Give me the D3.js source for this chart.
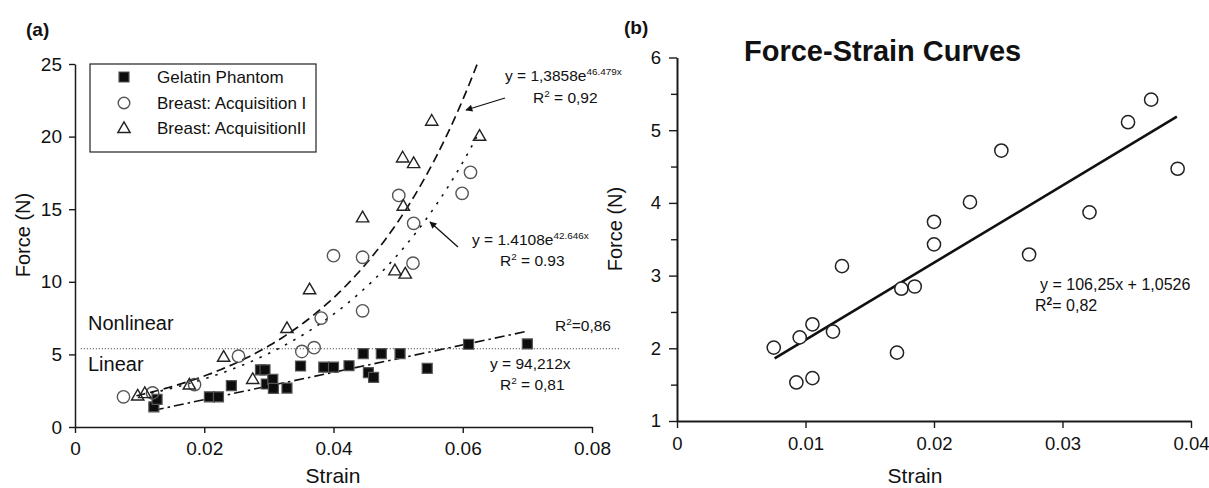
<!DOCTYPE html>
<html>
<head>
<meta charset="utf-8">
<script src="https://cdn.jsdelivr.net/npm/d3@7"></script>
<style>
    body { margin: 0; background: #fff; }
    svg { display: block; font-family: "Liberation Sans", Arial, sans-serif; }
</style>
</head>
<body>
<svg id="chart" width="1209" height="488"></svg>
<script>
// ---- panel (a) data: [strain, force] ----
var gelatin = [
    [0.0122, 1.39], [0.0127, 1.90], [0.0208, 2.08], [0.0222, 2.08], [0.0242, 2.85],
    [0.0287, 3.94], [0.0294, 3.94], [0.0296, 2.96], [0.0306, 3.28], [0.0307, 2.66],
    [0.0328, 2.68], [0.0349, 4.20], [0.0385, 4.12], [0.0400, 4.12], [0.0424, 4.22],
    [0.0446, 5.05], [0.0454, 3.74], [0.0462, 3.42], [0.0474, 5.05], [0.0503, 5.05],
    [0.0545, 4.04], [0.0609, 5.70], [0.0700, 5.72]
];
var acqOne = [
    [0.0075, 2.08], [0.0120, 2.35], [0.0185, 2.92], [0.0253, 4.88], [0.0351, 5.20],
    [0.0370, 5.46], [0.0381, 7.50], [0.0445, 8.00], [0.0400, 11.80], [0.0445, 11.69],
    [0.0523, 11.28], [0.0501, 15.95], [0.0524, 14.03], [0.0599, 16.09], [0.0612, 17.54]
];
var acqTwo = [
    [0.0097, 2.10], [0.0108, 2.27], [0.0177, 2.86], [0.0230, 4.77], [0.0275, 3.24],
    [0.0328, 6.75], [0.0363, 9.42], [0.0445, 14.37], [0.0495, 10.72], [0.0508, 15.17],
    [0.0507, 18.50], [0.0511, 10.50], [0.0524, 18.11], [0.0552, 21.03], [0.0626, 19.99]
];
// trend lines printed on the chart: y = a*exp(b*x) and y = m*x, with their x extents
var fitAcqTwo = [1.3858, 46.479, 0.0095, 0.0622];
var fitAcqOne = [1.4108, 42.646, 0.0118, 0.0626];
var fitGelatin = [94.212, 0.0122, 0.0700];
var boundaryForce = 5.39;
var xTicksA = [0, 0.02, 0.04, 0.06, 0.08];
var yTicksA = [0, 5, 10, 15, 20, 25];
var legendNames = ["Gelatin Phantom", "Breast: Acquisition I", "Breast: AcquisitionII"];

// ---- panel (b) data ----
var strainB = [0.00753, 0.00955, 0.01054, 0.00929, 0.01054, 0.01214, 0.01284, 0.01712, 0.01746, 0.0185,
    0.0200, 0.0200, 0.0228, 0.02524, 0.0274, 0.0321, 0.0351, 0.0369, 0.03896];
var forceB = [2.01, 2.15, 2.33, 1.53, 1.59, 2.23, 3.13, 1.94, 2.82, 2.85,
    3.43, 3.74, 4.01, 4.72, 3.29, 3.87, 5.11, 5.42, 4.47];
var fitB = [106.25, 1.0526, 0.0076, 0.0389];
var xTicksB = [0, 0.01, 0.02, 0.03, 0.04];
var yTicksB = [1, 2, 3, 4, 5, 6];
var yMinorB = [1.5, 2.5, 3.5, 4.5, 5.5];

var svg = d3.select("#chart");
var ink = "#111";

function fmtTick(d) { return d === 0 ? "0" : d3.format(".2f")(d); }

function sampleExp(f) {
    var xs = d3.range(f[2], f[3], 0.0005).concat([f[3]]);
    return xs.map(function (x) { return [x, f[0] * Math.exp(f[1] * x)]; });
}

function styleAxis(ax, w, size) {
    ax.select(".domain").attr("stroke", "#1a1a1a").attr("stroke-width", w);
    ax.selectAll(".tick line").attr("stroke", "#1a1a1a").attr("stroke-width", 1.4);
    ax.selectAll(".tick text").attr("fill", ink).style("font-size", size + "px")
        .style("font-family", "'Liberation Sans', Arial, sans-serif");
}

// text with superscripts: parts = [{t: "..."}, {sup: "..."}, ...]
function eqText(g, x, y, size, parts, supBold) {
    var t = g.append("text").attr("x", x).attr("y", y).attr("fill", ink).style("font-size", size + "px");
    var raise = size * 0.4, up = false;
    parts.forEach(function (p) {
        if (p.sup) {
            t.append("tspan").attr("dy", -raise).style("font-size", (size * 0.64) + "px")
                .style("font-weight", supBold ? "bold" : null).text(p.sup);
            up = true;
        } else {
            t.append("tspan").attr("dy", up ? raise : 0).text(p.t);
            up = false;
        }
    });
    return t;
}

/* ================= panel (a) ================= */
var xA = d3.scaleLinear().domain([0, 0.08]).range([75, 592]);
var yA = d3.scaleLinear().domain([0, 25]).range([427, 64]);
var gA = svg.append("g");

var axXA = gA.append("g").attr("transform", "translate(0," + yA(0) + ")")
    .call(d3.axisBottom(xA).tickValues(xTicksA).tickFormat(fmtTick).tickSize(6).tickSizeOuter(0).tickPadding(9));
var axYA = gA.append("g").attr("transform", "translate(" + xA(0) + ",0)")
    .call(d3.axisLeft(yA).tickValues(yTicksA).tickFormat(d3.format("d")).tickSize(6).tickSizeOuter(0).tickPadding(7));
styleAxis(axXA, 1.5, 19);
styleAxis(axYA, 1.5, 19);

// linear / nonlinear boundary
gA.append("line")
    .attr("x1", xA(0.0009)).attr("x2", xA(0.0843))
    .attr("y1", yA(boundaryForce)).attr("y2", yA(boundaryForce))
    .attr("stroke", "#333").attr("stroke-width", 1).attr("stroke-dasharray", "1,2");

gA.append("text").attr("x", 88).attr("y", 330).attr("fill", ink).style("font-size", "20px").text("Nonlinear");
gA.append("text").attr("x", 88).attr("y", 371).attr("fill", ink).style("font-size", "20px").text("Linear");

// trend lines
var lineA = d3.line().x(function (d) { return xA(d[0]); }).y(function (d) { return yA(d[1]); });
gA.append("path").datum(sampleExp(fitAcqTwo)).attr("d", lineA)
    .attr("fill", "none").attr("stroke", ink).attr("stroke-width", 1.7).attr("stroke-dasharray", "9,5");
gA.append("path").datum(sampleExp(fitAcqOne)).attr("d", lineA)
    .attr("fill", "none").attr("stroke", ink).attr("stroke-width", 1.6).attr("stroke-dasharray", "2.5,7");
gA.append("path")
    .datum([[fitGelatin[1], fitGelatin[0] * fitGelatin[1]], [fitGelatin[2], fitGelatin[0] * fitGelatin[2]]])
    .attr("d", lineA)
    .attr("fill", "none").attr("stroke", ink).attr("stroke-width", 1.6).attr("stroke-dasharray", "10,4,2.5,4");

// markers
var sq = d3.symbol(d3.symbolSquare, 100);
var tri = d3.symbol(d3.symbolTriangle, 66);

gA.selectAll(".sq").data(gelatin).enter().append("path")
    .attr("d", sq)
    .attr("transform", function (d) { return "translate(" + xA(d[0]) + "," + yA(d[1]) + ")"; })
    .attr("fill", "#0d0d0d").attr("stroke", "#555").attr("stroke-width", 1.2);
gA.selectAll(".ci").data(acqOne).enter().append("circle")
    .attr("cx", function (d) { return xA(d[0]); })
    .attr("cy", function (d) { return yA(d[1]); })
    .attr("r", 6.2)
    .attr("fill", "none").attr("stroke", "#555").attr("stroke-width", 1.4);
gA.selectAll(".tr").data(acqTwo).enter().append("path")
    .attr("d", tri)
    .attr("transform", function (d) { return "translate(" + xA(d[0]) + "," + yA(d[1]) + ")"; })
    .attr("fill", "none").attr("stroke", "#222").attr("stroke-width", 1.4);

// legend
var leg = gA.append("g");
leg.append("rect").attr("x", 90).attr("y", 64).attr("width", 226).attr("height", 88)
    .attr("fill", "#fff").attr("stroke", "#222").attr("stroke-width", 1.2);
var legY = [77, 103, 128];
leg.append("path").attr("d", sq).attr("transform", "translate(124," + legY[0] + ")")
    .attr("fill", "#0d0d0d").attr("stroke", "#555").attr("stroke-width", 1.2);
leg.append("circle").attr("cx", 124).attr("cy", legY[1]).attr("r", 5.8)
    .attr("fill", "none").attr("stroke", "#555").attr("stroke-width", 1.4);
leg.append("path").attr("d", tri).attr("transform", "translate(124," + (legY[2] + 1) + ")")
    .attr("fill", "none").attr("stroke", "#222").attr("stroke-width", 1.4);
leg.selectAll(".lt").data(legendNames).enter().append("text")
    .attr("x", 157).attr("y", function (d, i) { return legY[i] + 6; })
    .attr("fill", ink).style("font-size", "17px").text(function (d) { return d; });

// annotations
eqText(gA, 505, 81, 15.5, [{t: "y = 1,3858e"}, {sup: "46.479x"}]);
eqText(gA, 533, 103, 15.5, [{t: "R"}, {sup: "2"}, {t: " = 0,92"}]);
eqText(gA, 472, 245, 15.5, [{t: "y = 1.4108e"}, {sup: "42.646x"}]);
eqText(gA, 500, 266, 15.5, [{t: "R"}, {sup: "2"}, {t: " = 0.93"}]);
eqText(gA, 555, 331, 15.5, [{t: "R"}, {sup: "2"}, {t: "=0,86"}]);
eqText(gA, 490, 369, 15.5, [{t: "y = 94,212x"}]);
eqText(gA, 500, 390, 15.5, [{t: "R"}, {sup: "2"}, {t: " = 0,81"}]);

svg.append("defs").append("marker").attr("id", "ah")
    .attr("viewBox", "0 0 10 10").attr("refX", 9).attr("refY", 5)
    .attr("markerWidth", 9).attr("markerHeight", 7).attr("markerUnits", "userSpaceOnUse")
    .attr("orient", "auto")
    .append("path").attr("d", "M0,0L10,5L0,10z").attr("fill", ink);
gA.append("line").attr("x1", 505).attr("y1", 98).attr("x2", 466).attr("y2", 110)
    .attr("stroke", ink).attr("stroke-width", 1.3).attr("marker-end", "url(#ah)");
gA.append("line").attr("x1", 458).attr("y1", 247).attr("x2", 430).attr("y2", 222)
    .attr("stroke", ink).attr("stroke-width", 1.3).attr("marker-end", "url(#ah)");

gA.append("text").attr("x", 333).attr("y", 483).attr("text-anchor", "middle")
    .attr("fill", ink).style("font-size", "21px").text("Strain");
gA.append("text").attr("transform", "translate(30,235) rotate(-90)").attr("text-anchor", "middle")
    .attr("fill", ink).style("font-size", "20px").text("Force (N)");
gA.append("text").attr("x", 26).attr("y", 36).attr("fill", ink)
    .style("font-size", "19px").style("font-weight", "bold").text("(a)");

/* ================= panel (b) ================= */
var xB = d3.scaleLinear().domain([0, 0.04]).range([677, 1191]);
var yB = d3.scaleLinear().domain([1, 6]).range([421, 57.5]);
var gB = svg.append("g");

var axXB = gB.append("g").attr("transform", "translate(0," + yB(1) + ")")
    .call(d3.axisBottom(xB).tickValues(xTicksB).tickFormat(fmtTick).tickSize(7).tickSizeOuter(0).tickPadding(9));
var axYB = gB.append("g").attr("transform", "translate(" + xB(0) + ",0)")
    .call(d3.axisLeft(yB).tickValues(yTicksB).tickFormat(d3.format("d")).tickSize(8).tickSizeOuter(0).tickPadding(8));
gB.append("g").attr("transform", "translate(" + xB(0) + ",0)")
    .call(d3.axisLeft(yB).tickValues(yMinorB).tickSize(6).tickFormat(""))
    .call(function (g) { g.select(".domain").remove(); })
    .selectAll(".tick line").attr("stroke", "#1a1a1a").attr("stroke-width", 1.4);
styleAxis(axXB, 2, 18.5);
styleAxis(axYB, 2, 18.5);

gB.append("line")
    .attr("x1", xB(fitB[2])).attr("y1", yB(fitB[0] * fitB[2] + fitB[1]))
    .attr("x2", xB(fitB[3])).attr("y2", yB(fitB[0] * fitB[3] + fitB[1]))
    .attr("stroke", ink).attr("stroke-width", 2.6);

gB.selectAll(".pt").data(strainB).enter().append("circle")
    .attr("cx", function (d) { return xB(d); })
    .attr("cy", function (d, i) { return yB(forceB[i]); })
    .attr("r", 6.6)
    .attr("fill", "#fff").attr("stroke", "#222").attr("stroke-width", 1.5);

eqText(gB, 1040, 290, 16, [{t: "y = 106,25x + 1,0526"}]);
eqText(gB, 1035, 311, 16, [{t: "R"}, {sup: "2"}, {t: "= 0,82"}], true);

gB.append("text").attr("x", 915).attr("y", 483).attr("text-anchor", "middle")
    .attr("fill", ink).style("font-size", "21px").text("Strain");
gB.append("text").attr("transform", "translate(622,229) rotate(-90)").attr("text-anchor", "middle")
    .attr("fill", ink).style("font-size", "20px").text("Force (N)");
gB.append("text").attr("x", 624).attr("y", 34).attr("fill", ink)
    .style("font-size", "19px").style("font-weight", "bold").text("(b)");
gB.append("text").attr("x", 744).attr("y", 61).attr("fill", ink)
    .style("font-size", "29px").style("font-weight", "bold").text("Force-Strain Curves");
</script>
</body>
</html>
